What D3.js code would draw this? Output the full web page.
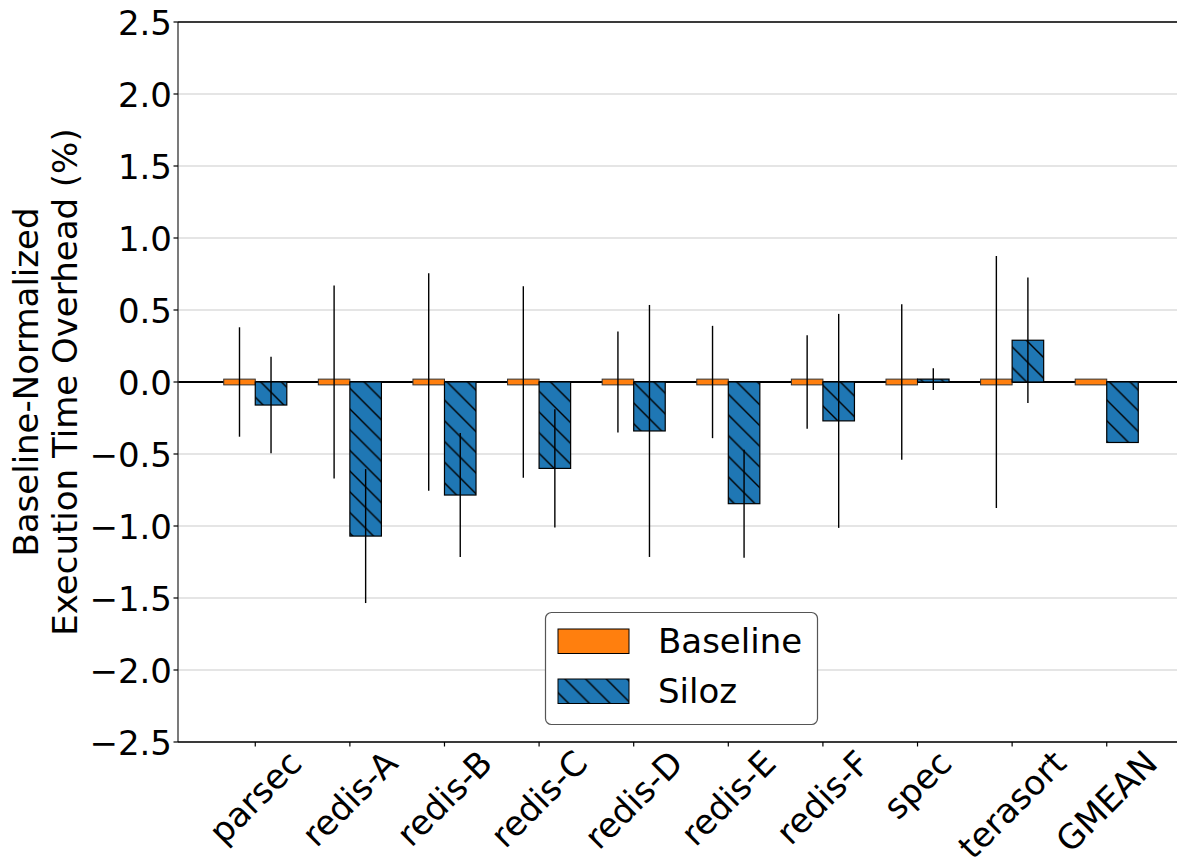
<!DOCTYPE html>
<html>
<head>
<meta charset="utf-8">
<script src="https://cdn.jsdelivr.net/npm/d3@7"></script>
<style>
  html, body { margin: 0; padding: 0; background: #fff; }
  svg { display: block; font-family: "DejaVu Sans", sans-serif; }
</style>
</head>
<body>
<svg id="chart" width="1177" height="861"></svg>
<script>
// Workloads on the x axis
const categories = ["parsec", "redis-A", "redis-B", "redis-C", "redis-D", "redis-E", "redis-F", "spec", "terasort", "GMEAN"];

// Execution-time overhead (%) normalised to the baseline run
const baselineValues = [0, 0, 0, 0, 0, 0, 0, 0, 0, 0];
const silozValues = [-0.16, -1.07, -0.785, -0.60, -0.34, -0.845, -0.27, 0.02, 0.29, -0.42];

// Error-bar half widths (null = no error bar)
const baselineErr = [0.38, 0.67, 0.755, 0.665, 0.35, 0.39, 0.325, 0.54, 0.875, null];
const silozErr = [0.335, 0.465, 0.43, 0.41, 0.875, 0.375, 0.743, 0.075, 0.435, null];

// Y axis ticks
const yTicks = [-2.5, -2.0, -1.5, -1.0, -0.5, 0.0, 0.5, 1.0, 1.5, 2.0, 2.5];

const seriesNames = ["Baseline", "Siloz"];
const seriesColors = ["#ff7f0e", "#1f77b4"];

const FONT = 34;
const svg = d3.select("#chart");

// Plot area
const plot = { left: 178, top: 22, bottom: 742, right: 1184 };

// Bars are one third of a category wide, side by side
const barW = 1 / 3;
const lo = -barW, hi = categories.length - 1 + barW;
const pad = 0.05 * (hi - lo);
const x = d3.scaleLinear().domain([lo - pad, hi + pad]).range([plot.left, plot.right]);
const y = d3.scaleLinear().domain([-2.5, 2.5]).range([plot.bottom, plot.top]);

// Hatch pattern for the Siloz bars
const defs = svg.append("defs");
const hs = 20.7;
const pat = defs.append("pattern")
  .attr("id", "hatch")
  .attr("patternUnits", "userSpaceOnUse")
  .attr("width", hs).attr("height", hs)
  .attr("x", 3).attr("y", 0);
pat.append("rect").attr("width", hs).attr("height", hs).attr("fill", seriesColors[1]);
pat.append("path")
  .attr("d", `M0,0 L${hs},${hs} M${-hs / 2},${hs / 2} L${hs / 2},${hs * 1.5} M${hs / 2},${-hs / 2} L${hs * 1.5},${hs / 2}`)
  .attr("stroke", "#000").attr("stroke-width", 1.4).attr("fill", "none");

// Horizontal grid
svg.append("g").selectAll("line").data(yTicks).join("line")
  .attr("x1", plot.left).attr("x2", plot.right)
  .attr("y1", d => y(d)).attr("y2", d => y(d))
  .attr("stroke", "#dcdcdc").attr("stroke-width", 1.4);

// Zero reference line
svg.append("line")
  .attr("x1", plot.left).attr("x2", plot.right)
  .attr("y1", y(0)).attr("y2", y(0))
  .attr("stroke", "#000").attr("stroke-width", 2);

// Baseline bars: value 0, drawn as a thin stub around zero
const stub = 0.02;
svg.append("g").selectAll("rect").data(baselineValues).join("rect")
  .attr("x", (d, i) => x(i - barW))
  .attr("width", (d, i) => x(i) - x(i - barW))
  .attr("y", d => y(d + stub))
  .attr("height", d => y(d - stub) - y(d + stub))
  .attr("fill", seriesColors[0])
  .attr("stroke", "#333").attr("stroke-width", 1);

// Siloz bars
svg.append("g").selectAll("rect").data(silozValues).join("rect")
  .attr("x", (d, i) => x(i))
  .attr("width", (d, i) => x(i + barW) - x(i))
  .attr("y", d => y(Math.max(0, d)))
  .attr("height", d => Math.abs(y(d) - y(0)))
  .attr("fill", "url(#hatch)")
  .attr("stroke", "#000").attr("stroke-width", 1.2);

// Error bars
function errorBars(values, errs, offset) {
  const rows = values.map((v, i) => ({ i, v, e: errs[i] })).filter(r => r.e != null);
  svg.append("g").selectAll("line").data(rows).join("line")
    .attr("x1", r => x(r.i + offset)).attr("x2", r => x(r.i + offset))
    .attr("y1", r => y(r.v + r.e)).attr("y2", r => y(r.v - r.e))
    .attr("stroke", "#000").attr("stroke-width", 1.4);
}
errorBars(baselineValues, baselineErr, -barW / 2);
errorBars(silozValues, silozErr, barW / 2);

// Spines
svg.append("line").attr("x1", plot.left).attr("x2", plot.left)
  .attr("y1", plot.top).attr("y2", plot.bottom)
  .attr("stroke", "#333").attr("stroke-width", 1.3);
svg.append("line").attr("x1", plot.left).attr("x2", plot.right)
  .attr("y1", plot.bottom).attr("y2", plot.bottom)
  .attr("stroke", "#000").attr("stroke-width", 1.4);
svg.append("line").attr("x1", plot.left).attr("x2", plot.right)
  .attr("y1", plot.top).attr("y2", plot.top)
  .attr("stroke", "#000").attr("stroke-width", 1.4);

// Y ticks and labels
const fmt = d3.format(".1f");
const yAxis = svg.append("g");
yAxis.selectAll("line").data(yTicks).join("line")
  .attr("x1", plot.left - 4.5).attr("x2", plot.left)
  .attr("y1", d => y(d)).attr("y2", d => y(d))
  .attr("stroke", "#000").attr("stroke-width", 1.2);
yAxis.selectAll("text").data(yTicks).join("text")
  .attr("x", plot.left - 6)
  .attr("y", d => y(d) + 12.5)
  .attr("text-anchor", "end")
  .attr("font-size", FONT)
  .attr("fill", "#000")
  .text(d => fmt(d));

// X ticks
const xAxis = svg.append("g");
xAxis.selectAll("line").data(categories).join("line")
  .attr("x1", (d, i) => x(i)).attr("x2", (d, i) => x(i))
  .attr("y1", plot.bottom).attr("y2", plot.bottom + 4.5)
  .attr("stroke", "#000").attr("stroke-width", 1.2);

// X labels, rotated 45° with their bounding box centred under the tick
const labelTop = plot.bottom + 1;
const lineH = FONT * 1.164;
xAxis.selectAll("text").data(categories).join("text")
  .attr("font-size", FONT)
  .attr("text-anchor", "middle")
  .attr("fill", "#000")
  .text(d => d)
  .each(function (d, i) {
    const w = this.getComputedTextLength();
    const boxH = (w + lineH) / Math.SQRT2;
    const cx = x(i), cy = labelTop + boxH / 2;
    d3.select(this)
      .attr("x", 0).attr("y", FONT * 0.346)
      .attr("transform", `translate(${cx},${cy}) rotate(-45)`);
  });

// Y axis title (two lines)
const yTitle = ["Baseline-Normalized", "Execution Time Overhead (%)"];
const midY = (plot.top + plot.bottom) / 2;
svg.append("g").selectAll("text").data(yTitle).join("text")
  .attr("transform", (d, i) => `translate(${37.5 + i * 39.5},${midY}) rotate(-90)`)
  .attr("text-anchor", "middle")
  .attr("font-size", FONT)
  .attr("fill", "#000")
  .text(d => d);

// Legend
const lg = svg.append("g").attr("transform", "translate(545,612)");
lg.append("rect")
  .attr("x", 0.5).attr("y", 0.5)
  .attr("width", 272).attr("height", 112)
  .attr("rx", 6).attr("ry", 6)
  .attr("fill", "#fff").attr("stroke", "#555").attr("stroke-width", 1.2);
const fills = [seriesColors[0], "url(#hatch)"];
const items = lg.selectAll("g.item").data(seriesNames).join("g")
  .attr("class", "item")
  .attr("transform", (d, i) => `translate(0,${i * 50})`);
items.append("rect")
  .attr("x", 13).attr("y", 17)
  .attr("width", 71).attr("height", 24.5)
  .attr("fill", (d, i) => fills[i])
  .attr("stroke", "#000").attr("stroke-width", 1);
items.append("text")
  .attr("x", 113).attr("y", 41)
  .attr("font-size", FONT)
  .attr("fill", "#000")
  .text(d => d);
</script>
</body>
</html>
